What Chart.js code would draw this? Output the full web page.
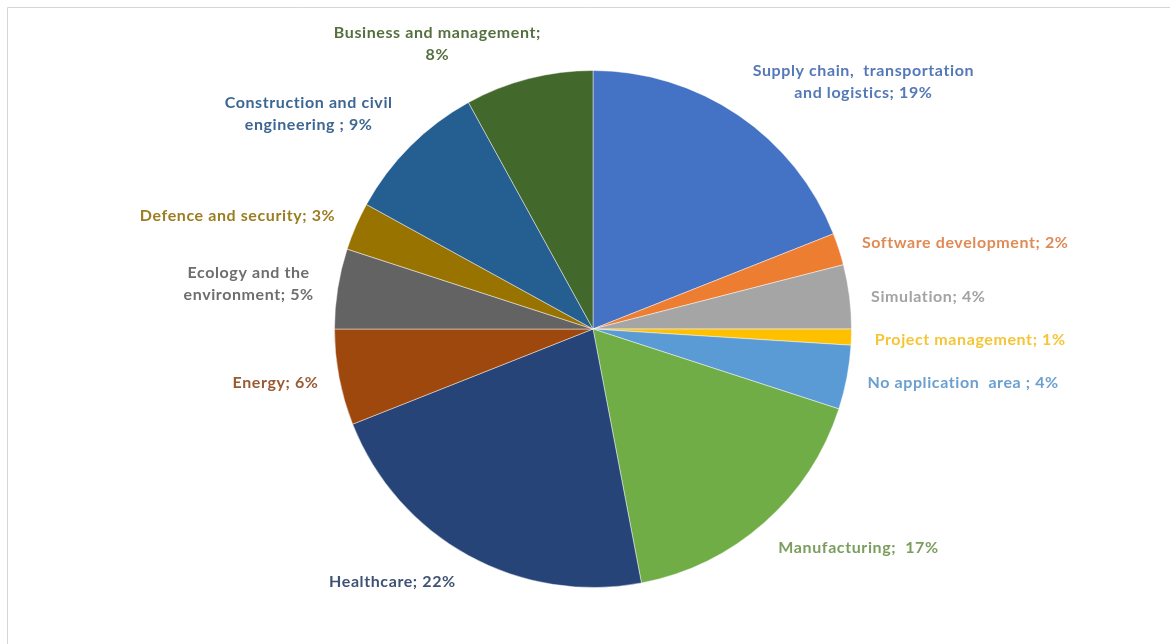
<!DOCTYPE html>
<html>
<head>
<meta charset="utf-8">
<script src="https://cdn.jsdelivr.net/npm/chart.js@4"></script>
<style>
  html, body { margin: 0; padding: 0; background: #ffffff; }
  #wrap { position: relative; width: 1170px; height: 644px; overflow: hidden; }
  canvas { display: block; }
</style>
</head>
<body>
<div id="wrap"><canvas id="chart" width="1170" height="644"></canvas></div>
<script>
// Application areas, clockwise from 12 o'clock
const categories = [
  ["Supply chain,  transportation", "and logistics; 19%"],
  ["Software development; 2%"],
  ["Simulation; 4%"],
  ["Project management; 1%"],
  ["No application  area ; 4%"],
  ["Manufacturing;  17%"],
  ["Healthcare; 22%"],
  ["Energy; 6%"],
  ["Ecology and the", "environment; 5%"],
  ["Defence and security; 3%"],
  ["Construction and civil", "engineering ; 9%"],
  ["Business and management;", "8%"]
];
const shares = [19, 2, 4, 1, 4, 17, 22, 6, 5, 3, 9, 8];

const sliceColors = [
  "#4472C4", "#ED7D31", "#A5A5A5", "#FFC000", "#5B9BD5", "#70AD47",
  "#264478", "#9E480E", "#636363", "#997300", "#255E91", "#43682B"
];
const labelColors = [
  "#5578b8", "#e08a55", "#a3a3a3", "#f5c535", "#6a9fd0", "#7b9e5e",
  "#3f5276", "#9a5a32", "#6e6e6e", "#9c7d22", "#3d6792", "#55703f"
];
// label block centres, in units of the pie radius from the pie centre
const labelOffsets = [
  [1.046, -0.958], [1.440, -0.332], [1.297, -0.124], [1.459, 0.042],
  [1.432, 0.208], [1.027, 0.846], [-0.776, 0.980], [-1.228, 0.208],
  [-1.332, -0.174], [-1.375, -0.436], [-1.100, -0.834], [-0.602, -1.104]
];

// outer frame of the figure box
const framePlugin = {
  id: "frame",
  beforeDraw(chart) {
    const ctx = chart.ctx;
    ctx.save();
    ctx.strokeStyle = "#d6d6d6";
    ctx.lineWidth = 1;
    ctx.beginPath();
    ctx.moveTo(7.5, 700);
    ctx.lineTo(7.5, 7.5);
    ctx.lineTo(1200, 7.5);
    ctx.stroke();
    ctx.restore();
  }
};

// slice labels drawn outside the pie
const labelPlugin = {
  id: "sliceLabels",
  afterDatasetsDraw(chart) {
    const ctx = chart.ctx;
    const arcs = chart.getDatasetMeta(0).data;
    ctx.save();
    ctx.font = "bold 16px Lato, 'Open Sans', sans-serif";
    if ("letterSpacing" in ctx) ctx.letterSpacing = "0.6px";
    ctx.textAlign = "center";
    ctx.textBaseline = "middle";
    const lineH = 22;
    arcs.forEach((arc, i) => {
      const r = arc.outerRadius;
      const cx = arc.x + labelOffsets[i][0] * r;
      const cy = arc.y + labelOffsets[i][1] * r;
      const lines = categories[i];
      ctx.fillStyle = labelColors[i];
      lines.forEach((t, k) => {
        ctx.fillText(t, cx, cy + (k - (lines.length - 1) / 2) * lineH);
      });
    });
    ctx.restore();
  }
};

new Chart(document.getElementById("chart"), {
  type: "pie",
  data: {
    labels: categories.map(l => l.join(" ")),
    datasets: [{
      data: shares,
      backgroundColor: sliceColors,
      borderColor: "rgba(255,255,255,0.45)",
      borderWidth: 1
    }]
  },
  options: {
    responsive: false,
    animation: false,
    layout: { padding: { top: 70, bottom: 56, left: 200, right: 184 } },
    plugins: {
      legend: { display: false },
      tooltip: { enabled: false },
      title: { display: false }
    }
  },
  plugins: [framePlugin, labelPlugin]
});
</script>
</body>
</html>
